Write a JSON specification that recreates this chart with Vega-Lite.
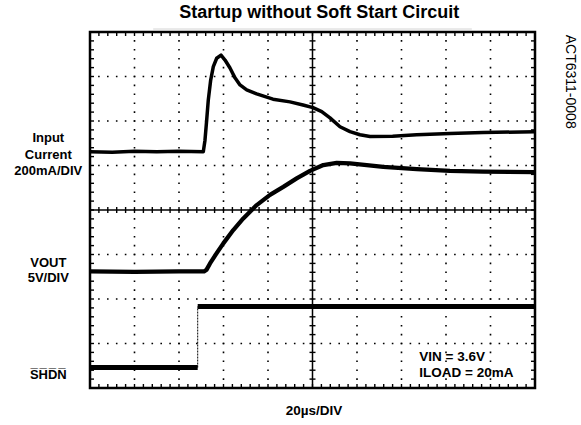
{
  "$schema": "https://vega.github.io/schema/vega-lite/v6.json",
  "width": 445,
  "height": 356,
  "autosize": "none",
  "padding": {"left": 90, "top": 32, "right": 46, "bottom": 37},
  "background": "white",
  "config": {
    "view": {"stroke": "black", "strokeWidth": 2.5},
    "font": "Liberation Sans"
  },
  "datasets": {
    "traces": [
      {"trace": "Input Current", "seg": "I", "t": 0, "v": 5.31},
      {"trace": "Input Current", "seg": "I", "t": 0.5, "v": 5.30},
      {"trace": "Input Current", "seg": "I", "t": 1.0, "v": 5.32},
      {"trace": "Input Current", "seg": "I", "t": 1.5, "v": 5.31},
      {"trace": "Input Current", "seg": "I", "t": 2.0, "v": 5.32},
      {"trace": "Input Current", "seg": "I", "t": 2.546, "v": 5.31},
      {"trace": "Input Current", "seg": "I", "t": 2.584, "v": 5.57},
      {"trace": "Input Current", "seg": "I", "t": 2.622, "v": 6.02},
      {"trace": "Input Current", "seg": "I", "t": 2.658, "v": 6.47},
      {"trace": "Input Current", "seg": "I", "t": 2.712, "v": 6.92},
      {"trace": "Input Current", "seg": "I", "t": 2.771, "v": 7.22},
      {"trace": "Input Current", "seg": "I", "t": 2.847, "v": 7.41},
      {"trace": "Input Current", "seg": "I", "t": 2.944, "v": 7.48},
      {"trace": "Input Current", "seg": "I", "t": 3.034, "v": 7.37},
      {"trace": "Input Current", "seg": "I", "t": 3.146, "v": 7.19},
      {"trace": "Input Current", "seg": "I", "t": 3.258, "v": 6.97},
      {"trace": "Input Current", "seg": "I", "t": 3.371, "v": 6.81},
      {"trace": "Input Current", "seg": "I", "t": 3.521, "v": 6.70},
      {"trace": "Input Current", "seg": "I", "t": 3.746, "v": 6.61},
      {"trace": "Input Current", "seg": "I", "t": 4.112, "v": 6.49},
      {"trace": "Input Current", "seg": "I", "t": 4.494, "v": 6.43},
      {"trace": "Input Current", "seg": "I", "t": 4.787, "v": 6.36},
      {"trace": "Input Current", "seg": "I", "t": 5.011, "v": 6.30},
      {"trace": "Input Current", "seg": "I", "t": 5.207, "v": 6.21},
      {"trace": "Input Current", "seg": "I", "t": 5.393, "v": 6.07},
      {"trace": "Input Current", "seg": "I", "t": 5.618, "v": 5.87},
      {"trace": "Input Current", "seg": "I", "t": 5.843, "v": 5.76},
      {"trace": "Input Current", "seg": "I", "t": 6.067, "v": 5.69},
      {"trace": "Input Current", "seg": "I", "t": 6.292, "v": 5.65},
      {"trace": "Input Current", "seg": "I", "t": 6.8, "v": 5.66},
      {"trace": "Input Current", "seg": "I", "t": 7.342, "v": 5.69},
      {"trace": "Input Current", "seg": "I", "t": 8.09, "v": 5.72},
      {"trace": "Input Current", "seg": "I", "t": 8.831, "v": 5.74},
      {"trace": "Input Current", "seg": "I", "t": 10, "v": 5.76},
      {"trace": "VOUT", "seg": "V", "t": 0, "v": 2.62},
      {"trace": "VOUT", "seg": "V", "t": 1, "v": 2.61},
      {"trace": "VOUT", "seg": "V", "t": 2, "v": 2.62},
      {"trace": "VOUT", "seg": "V", "t": 2.562, "v": 2.62},
      {"trace": "VOUT", "seg": "V", "t": 2.62, "v": 2.66},
      {"trace": "VOUT", "seg": "V", "t": 2.697, "v": 2.80},
      {"trace": "VOUT", "seg": "V", "t": 2.847, "v": 3.03},
      {"trace": "VOUT", "seg": "V", "t": 2.996, "v": 3.25},
      {"trace": "VOUT", "seg": "V", "t": 3.22, "v": 3.55},
      {"trace": "VOUT", "seg": "V", "t": 3.445, "v": 3.81},
      {"trace": "VOUT", "seg": "V", "t": 3.746, "v": 4.11},
      {"trace": "VOUT", "seg": "V", "t": 4.045, "v": 4.34},
      {"trace": "VOUT", "seg": "V", "t": 4.344, "v": 4.52},
      {"trace": "VOUT", "seg": "V", "t": 4.644, "v": 4.71},
      {"trace": "VOUT", "seg": "V", "t": 4.944, "v": 4.88},
      {"trace": "VOUT", "seg": "V", "t": 5.243, "v": 5.01},
      {"trace": "VOUT", "seg": "V", "t": 5.544, "v": 5.06},
      {"trace": "VOUT", "seg": "V", "t": 5.843, "v": 5.05},
      {"trace": "VOUT", "seg": "V", "t": 6.218, "v": 5.01},
      {"trace": "VOUT", "seg": "V", "t": 6.591, "v": 4.97},
      {"trace": "VOUT", "seg": "V", "t": 7.342, "v": 4.92},
      {"trace": "VOUT", "seg": "V", "t": 8.09, "v": 4.88},
      {"trace": "VOUT", "seg": "V", "t": 8.838, "v": 4.86},
      {"trace": "VOUT", "seg": "V", "t": 10, "v": 4.85},
      {"trace": "SHDN", "seg": "S low", "t": 0, "v": 0.46},
      {"trace": "SHDN", "seg": "S low", "t": 2.42, "v": 0.46},
      {"trace": "SHDN", "seg": "S high", "t": 2.42, "v": 1.83},
      {"trace": "SHDN", "seg": "S high", "t": 10, "v": 1.83}
    ],
    "xgrid": [{"t": 1}, {"t": 2}, {"t": 3}, {"t": 4}, {"t": 6}, {"t": 7}, {"t": 8}, {"t": 9}],
    "ygrid": [{"v": 1}, {"v": 2}, {"v": 3}, {"v": 5}, {"v": 6}, {"v": 7}],
    "xticks": [
      {"t": 0.2}, {"t": 0.4}, {"t": 0.6}, {"t": 0.8}, {"t": 1}, {"t": 1.2}, {"t": 1.4}, {"t": 1.6}, {"t": 1.8}, {"t": 2},
      {"t": 2.2}, {"t": 2.4}, {"t": 2.6}, {"t": 2.8}, {"t": 3}, {"t": 3.2}, {"t": 3.4}, {"t": 3.6}, {"t": 3.8}, {"t": 4},
      {"t": 4.2}, {"t": 4.4}, {"t": 4.6}, {"t": 4.8}, {"t": 5}, {"t": 5.2}, {"t": 5.4}, {"t": 5.6}, {"t": 5.8}, {"t": 6},
      {"t": 6.2}, {"t": 6.4}, {"t": 6.6}, {"t": 6.8}, {"t": 7}, {"t": 7.2}, {"t": 7.4}, {"t": 7.6}, {"t": 7.8}, {"t": 8},
      {"t": 8.2}, {"t": 8.4}, {"t": 8.6}, {"t": 8.8}, {"t": 9}, {"t": 9.2}, {"t": 9.4}, {"t": 9.6}, {"t": 9.8}
    ],
    "yticks": [
      {"v": 0.2}, {"v": 0.4}, {"v": 0.6}, {"v": 0.8}, {"v": 1}, {"v": 1.2}, {"v": 1.4}, {"v": 1.6}, {"v": 1.8}, {"v": 2},
      {"v": 2.2}, {"v": 2.4}, {"v": 2.6}, {"v": 2.8}, {"v": 3}, {"v": 3.2}, {"v": 3.4}, {"v": 3.6}, {"v": 3.8}, {"v": 4},
      {"v": 4.2}, {"v": 4.4}, {"v": 4.6}, {"v": 4.8}, {"v": 5}, {"v": 5.2}, {"v": 5.4}, {"v": 5.6}, {"v": 5.8}, {"v": 6},
      {"v": 6.2}, {"v": 6.4}, {"v": 6.6}, {"v": 6.8}, {"v": 7}, {"v": 7.2}, {"v": 7.4}, {"v": 7.6}, {"v": 7.8}
    ]
  },
  "layer": [
    {
      "data": {"name": "xgrid"},
      "mark": {"type": "rule", "color": "black", "strokeWidth": 1.6, "strokeDash": [1.6, 7.3], "strokeDashOffset": 0.8},
      "encoding": {
        "x": {"field": "t", "type": "quantitative", "scale": {"domain": [0, 10], "nice": false, "zero": false}, "axis": null}
      }
    },
    {
      "data": {"name": "ygrid"},
      "mark": {"type": "rule", "color": "black", "strokeWidth": 1.6, "strokeDash": [1.6, 7.3], "strokeDashOffset": 0.8},
      "encoding": {
        "y": {"field": "v", "type": "quantitative", "scale": {"domain": [0, 8], "nice": false, "zero": false}, "axis": null}
      }
    },
    {
      "data": {"name": "traces"},
      "mark": {"type": "line", "color": "black", "strokeJoin": "round", "strokeCap": "butt", "clip": true},
      "encoding": {
        "x": {"field": "t", "type": "quantitative", "axis": null},
        "y": {"field": "v", "type": "quantitative", "axis": null},
        "detail": {"field": "seg"},
        "strokeWidth": {"field": "trace", "type": "nominal", "scale": {"domain": ["Input Current", "VOUT", "SHDN"], "range": [3.5, 5, 5]}, "legend": null}
      }
    },
    {
      "data": {"values": [{"t": 2.42, "lo": 0.46, "hi": 1.83}]},
      "mark": {"type": "rule", "color": "black", "strokeWidth": 1, "strokeDash": [2, 1]},
      "encoding": {
        "x": {"field": "t", "type": "quantitative", "axis": null},
        "y": {"field": "lo", "type": "quantitative", "axis": null},
        "y2": {"field": "hi"}
      }
    },
    {
      "data": {"values": [{"t": 5}]},
      "mark": {"type": "rule", "color": "black", "strokeWidth": 1.5},
      "encoding": {
        "x": {"field": "t", "type": "quantitative", "axis": null}
      }
    },
    {
      "data": {"values": [{"v": 4}]},
      "mark": {"type": "rule", "color": "black", "strokeWidth": 1.5},
      "encoding": {
        "y": {"field": "v", "type": "quantitative", "axis": null}
      }
    },
    {
      "data": {"name": "xticks"},
      "mark": {"type": "tick", "orient": "vertical", "color": "black", "opacity": 1, "size": 8, "thickness": 1.4, "clip": true},
      "encoding": {
        "x": {"field": "t", "type": "quantitative", "axis": null},
        "y": {"datum": 0, "type": "quantitative", "axis": null}
      }
    },
    {
      "data": {"name": "xticks"},
      "mark": {"type": "tick", "orient": "vertical", "color": "black", "opacity": 1, "size": 8, "thickness": 1.4, "clip": true},
      "encoding": {
        "x": {"field": "t", "type": "quantitative", "axis": null},
        "y": {"datum": 8, "type": "quantitative", "axis": null}
      }
    },
    {
      "data": {"name": "xticks"},
      "mark": {"type": "tick", "orient": "vertical", "color": "black", "opacity": 1, "size": 6, "thickness": 1.4},
      "encoding": {
        "x": {"field": "t", "type": "quantitative", "axis": null},
        "y": {"datum": 4, "type": "quantitative", "axis": null}
      }
    },
    {
      "data": {"name": "yticks"},
      "mark": {"type": "tick", "orient": "horizontal", "color": "black", "opacity": 1, "size": 8, "thickness": 1.4, "clip": true},
      "encoding": {
        "y": {"field": "v", "type": "quantitative", "axis": null},
        "x": {"datum": 0, "type": "quantitative", "axis": null}
      }
    },
    {
      "data": {"name": "yticks"},
      "mark": {"type": "tick", "orient": "horizontal", "color": "black", "opacity": 1, "size": 8, "thickness": 1.4, "clip": true},
      "encoding": {
        "y": {"field": "v", "type": "quantitative", "axis": null},
        "x": {"datum": 10, "type": "quantitative", "axis": null}
      }
    },
    {
      "data": {"name": "yticks"},
      "mark": {"type": "tick", "orient": "horizontal", "color": "black", "opacity": 1, "size": 6, "thickness": 1.4},
      "encoding": {
        "y": {"field": "v", "type": "quantitative", "axis": null},
        "x": {"datum": 5, "type": "quantitative", "axis": null}
      }
    },
    {
      "data": {"values": [{"t1": 1.42, "t2": 8.58, "v": 8.067}]},
      "mark": {"type": "rule", "color": "#d4d4d4", "strokeWidth": 1, "clip": false},
      "encoding": {
        "x": {"field": "t1", "type": "quantitative", "axis": null},
        "x2": {"field": "t2"},
        "y": {"field": "v", "type": "quantitative", "axis": null}
      }
    },
    {
      "data": {"values": [{"t": 5.15, "v": 8.31, "label": "Startup without Soft Start Circuit"}]},
      "mark": {"type": "text", "font": "Liberation Sans", "fontWeight": "bold", "fontSize": 18, "align": "center", "baseline": "alphabetic", "color": "black"},
      "encoding": {
        "x": {"field": "t", "type": "quantitative", "axis": null},
        "y": {"field": "v", "type": "quantitative", "axis": null},
        "text": {"field": "label"}
      }
    },
    {
      "data": {"values": [
        {"t": -0.937, "v": 5.618, "label": "Input"},
        {"t": -0.937, "v": 5.247, "label": "Current"},
        {"t": -0.937, "v": 4.876, "label": "200mA/DIV"},
        {"t": -0.937, "v": 2.809, "label": "VOUT"},
        {"t": -0.937, "v": 2.461, "label": "5V/DIV"},
        {"t": -0.937, "v": 0.292, "label": "S̅H̅D̅N̅"}
      ]},
      "mark": {"type": "text", "font": "Liberation Sans", "fontWeight": "bold", "fontSize": 13, "align": "center", "baseline": "middle", "color": "black"},
      "encoding": {
        "x": {"field": "t", "type": "quantitative", "axis": null},
        "y": {"field": "v", "type": "quantitative", "axis": null},
        "text": {"field": "label"}
      }
    },
    {
      "data": {"values": [
        {"t": 7.399, "v": 0.703, "label": "VIN = 3.6V"},
        {"t": 7.399, "v": 0.344, "label": "ILOAD = 20mA"}
      ]},
      "mark": {"type": "text", "font": "Liberation Sans", "fontWeight": "bold", "fontSize": 13.5, "align": "left", "baseline": "middle", "color": "black"},
      "encoding": {
        "x": {"field": "t", "type": "quantitative", "axis": null},
        "y": {"field": "v", "type": "quantitative", "axis": null},
        "text": {"field": "label"}
      }
    },
    {
      "data": {"values": [{"t": 5.034, "v": -0.517, "label": "20µs/DIV"}]},
      "mark": {"type": "text", "font": "Liberation Sans", "fontWeight": "bold", "fontSize": 13.5, "align": "center", "baseline": "middle", "color": "black"},
      "encoding": {
        "x": {"field": "t", "type": "quantitative", "axis": null},
        "y": {"field": "v", "type": "quantitative", "axis": null},
        "text": {"field": "label"}
      }
    },
    {
      "data": {"values": [{"t": 10.787, "v": 6.883, "label": "ACT6311-0008"}]},
      "mark": {"type": "text", "font": "Liberation Sans", "fontSize": 14, "angle": 90, "align": "center", "baseline": "middle", "color": "black"},
      "encoding": {
        "x": {"field": "t", "type": "quantitative", "axis": null},
        "y": {"field": "v", "type": "quantitative", "axis": null},
        "text": {"field": "label"}
      }
    }
  ]
}
